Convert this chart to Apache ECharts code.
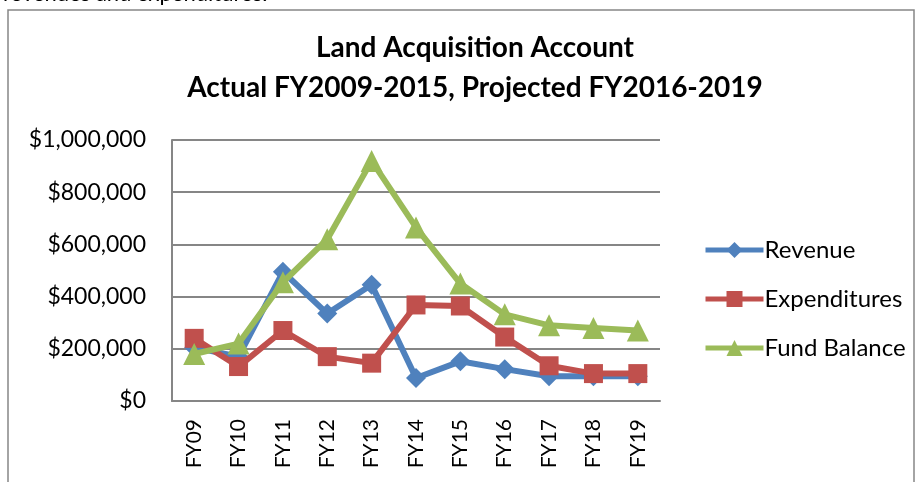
<!DOCTYPE html>
<html>
<head>
<meta charset="utf-8">
<script src="https://cdn.jsdelivr.net/npm/echarts@6/dist/echarts.min.js"></script>
<style>
  html, body { margin: 0; padding: 0; background: #fff; }
  #main { width: 917px; height: 482px; }
</style>
</head>
<body>
<div id="main"></div>
<script>
// fiscal years on the x axis
const years = ["FY09", "FY10", "FY11", "FY12", "FY13", "FY14", "FY15", "FY16", "FY17", "FY18", "FY19"];
const revenue = [205000, 170000, 495000, 335000, 445000, 88000, 152000, 122000, 95000, 95000, 95000];
const expenditures = [240000, 132000, 270000, 170000, 145000, 368000, 364000, 245000, 135000, 105000, 105000];
const fundBalance = [180000, 220000, 455000, 620000, 920000, 665000, 450000, 332000, 290000, 280000, 270000];
const yTicks = [0, 200000, 400000, 600000, 800000, 1000000];

const font = "Lato, 'Open Sans', sans-serif";

function money(v) {
  return "$" + v.toLocaleString("en-US");
}

let myChart = echarts.init(document.getElementById("main"));

const option = {
  animation: false,
  backgroundColor: "#fff",
  title: {
    text: "Land Acquisition Account\nActual FY2009-2015, Projected FY2016-2019",
    left: 470,
    top: 23,
    textAlign: "center",
    textStyle: {
      fontFamily: font,
      fontWeight: "bold",
      fontSize: 28,
      lineHeight: 40,
      color: "#000",
    },
  },
  graphic: [
    {
      type: "text",
      left: 3,
      top: -17,
      style: {
        text: "revenues and expenditures.",
        fontFamily: font,
        fontSize: 22,
        fill: "#000",
      },
    },
    {
      type: "rect",
      shape: { x: 8, y: 10, width: 906, height: 490 },
      style: { fill: "none", stroke: "#868686", lineWidth: 1.5 },
      z: 0,
    },
  ],
  legend: {
    orient: "vertical",
    left: 698,
    top: 233,
    itemWidth: 58,
    itemHeight: 20,
    itemGap: 25,
    data: ["Revenue", "Expenditures", "Fund Balance"],
    lineStyle: { width: 5 },
    textStyle: { fontFamily: font, fontSize: 24, color: "#000", padding: [0, 0, 0, -4] },
  },
  grid: {
    left: 172,
    right: 257,
    top: 140,
    bottom: 81,
  },
  xAxis: {
    type: "category",
    boundaryGap: true,
    data: years,
    axisLine: { lineStyle: { color: "#868686", width: 2 } },
    axisTick: { show: false },
    axisLabel: {
      rotate: 90,
      margin: 18,
      fontFamily: font,
      fontSize: 21,
      color: "#000",
    },
  },
  yAxis: {
    type: "value",
    min: yTicks[0],
    max: yTicks[yTicks.length - 1],
    interval: 200000,
    axisLine: { show: true, lineStyle: { color: "#868686", width: 2 } },
    axisTick: { show: false },
    splitLine: { lineStyle: { color: "#868686", width: 2 } },
    axisLabel: {
      margin: 26,
      fontFamily: font,
      fontSize: 23,
      color: "#000",
      formatter: money,
    },
  },
  series: [
    {
      name: "Revenue",
      type: "line",
      data: revenue,
      symbol: "diamond",
      symbolSize: 20,
      color: "#4F81BD",
      lineStyle: { width: 6, color: "#4F81BD" },
      z: 3,
    },
    {
      name: "Expenditures",
      type: "line",
      data: expenditures,
      symbol: "rect",
      symbolSize: 19,
      color: "#C0504D",
      lineStyle: { width: 6, color: "#C0504D" },
      z: 4,
    },
    {
      name: "Fund Balance",
      type: "line",
      data: fundBalance,
      symbol: "triangle",
      symbolSize: 22,
      color: "#9BBB59",
      lineStyle: { width: 6, color: "#9BBB59" },
      z: 5,
    },
  ],
};

option && myChart.setOption(option);
</script>
</body>
</html>
